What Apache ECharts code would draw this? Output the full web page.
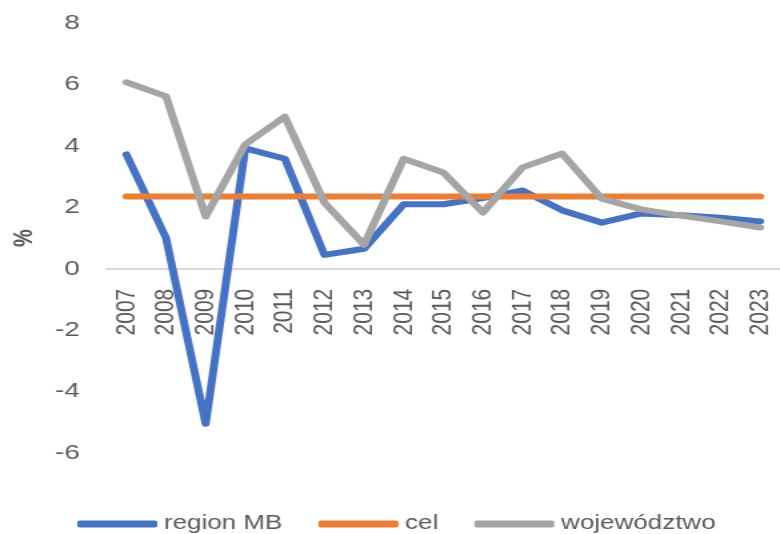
<!DOCTYPE html>
<html>
<head>
<meta charset="utf-8">
<script src="https://cdn.jsdelivr.net/npm/echarts@6/dist/echarts.min.js"></script>
<style>
  html, body { margin: 0; padding: 0; background: #ffffff; overflow: hidden; }
  /* chart is laid out narrower and stretched horizontally to the full window */
  #chart { width: 585px; height: 534px; transform: scaleX(1.3333); transform-origin: 0 0; }
</style>
</head>
<body>
<div id="chart"></div>
<script>
// Years on the category axis
const years = ['2007','2008','2009','2010','2011','2012','2013','2014','2015','2016','2017','2018','2019','2020','2021','2022','2023'];

// Growth rates, %
const regionMB = [3.72, 1.0, -5.05, 3.92, 3.58, 0.45, 0.65, 2.1, 2.1, 2.3, 2.55, 1.9, 1.5, 1.8, 1.74, 1.66, 1.54];
const cel = [2.35, 2.35, 2.35, 2.35, 2.35, 2.35, 2.35, 2.35, 2.35, 2.35, 2.35, 2.35, 2.35, 2.35, 2.35, 2.35, 2.35];
const wojewodztwo = [6.07, 5.61, 1.7, 4.05, 4.95, 2.15, 0.78, 3.58, 3.13, 1.83, 3.3, 3.75, 2.28, 1.93, 1.73, 1.54, 1.34];

// Value axis range and step
const yMin = -6, yMax = 8, yStep = 2;

const gridTop = 23, gridHeight = 430;
// the category axis sits on the zero line, labels included
const zeroOffset = -gridHeight * (0 - yMin) / (yMax - yMin);

const textColor = '#595959';
const fontFamily = '"Liberation Sans", Arial, sans-serif';

const chart = echarts.init(document.getElementById('chart'), null, { renderer: 'canvas' });

function lineSeries(name, data, color) {
  return {
    name: name,
    type: 'line',
    data: data,
    symbol: 'none',
    smooth: false,
    lineStyle: { width: 6, color: color, cap: 'round', join: 'round' },
    itemStyle: { color: color },
    emphasis: { disabled: true }
  };
}

chart.setOption({
  animation: false,
  textStyle: { fontFamily: fontFamily },
  grid: { left: 77, top: gridTop, width: 515, height: gridHeight, containLabel: false },
  legend: {
    left: 53,
    top: 509,
    itemWidth: 60,
    itemHeight: 7,
    itemGap: 27,
    icon: 'roundRect',
    textStyle: { color: textColor, fontSize: 19.5, fontFamily: fontFamily },
    data: ['region MB', 'cel', 'województwo']
  },
  xAxis: {
    type: 'category',
    data: years,
    boundaryGap: true,
    position: 'bottom',
    offset: zeroOffset,
    axisLine: { show: true, onZero: false, lineStyle: { color: '#d9d9d9', width: 2 } },
    axisTick: { show: false },
    axisLabel: {
      rotate: 90,
      margin: 20,
      interval: 0,
      color: textColor,
      fontSize: 21,
      fontFamily: fontFamily
    },
    splitLine: { show: false }
  },
  yAxis: {
    type: 'value',
    min: yMin,
    max: yMax,
    interval: yStep,
    name: '%',
    nameLocation: 'middle',
    nameRotate: 90,
    nameGap: 52,
    nameTextStyle: { color: textColor, fontWeight: 'bold', fontSize: 20, fontFamily: fontFamily },
    axisLine: { show: false },
    axisTick: { show: false },
    splitLine: { show: false },
    axisLabel: { margin: 20, color: textColor, fontSize: 21, fontFamily: fontFamily }
  },
  series: [
    lineSeries('region MB', regionMB, '#4472C4'),
    lineSeries('cel', cel, '#ED7D31'),
    lineSeries('województwo', wojewodztwo, '#A5A5A5')
  ]
});
</script>
</body>
</html>
